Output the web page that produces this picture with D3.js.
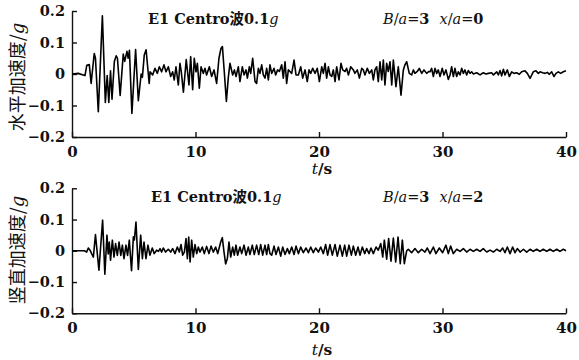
<!DOCTYPE html>
<html><head><meta charset="utf-8">
<script src="https://cdn.jsdelivr.net/npm/d3@7"></script>
<style>
body{margin:0;background:#fff;}
svg{display:block;}
</style></head>
<body>
<svg id="c" width="579" height="360"></svg>
<script>
// ---- data ----
const xTicks = [0, 10, 20, 30, 40];
const yTicks = [0.2, 0.1, 0, -0.1, -0.2];
const titleWave = "E1 Centro波0.1";
const labelH = "水平加速度/";
const labelV = "竖直加速度/";
const caseH = ["B", "a", "3", "x", "a", "0"];
const caseV = ["B", "a", "3", "x", "a", "2"];

const horizontal = [
[0,0],[0.5,0.002],[0.9,-0.003],[1.05,-0.005],[1.2,0.028],[1.4,0.03],[1.55,-0.03],[1.8,0.065],[1.9,0.05],
[2.13,-0.12],[2.46,0.185],[2.7,-0.09],[2.85,-0.005],[2.98,-0.09],[3.12,0.01],[3.24,-0.08],[3.43,0.04],
[3.58,0.058],[3.68,0.05],[3.9,-0.068],[4.15,0.063],[4.27,0.04],[4.45,0.072],[4.55,0.05],[4.65,0.075],
[4.85,-0.125],[5.15,0.078],[5.37,-0.085],[5.6,0.0],[5.7,-0.01],[5.85,0.06],[6.0,0.077],[6.25,-0.03],
[6.32,0.007],[6.53,-0.003],[6.72,0.018],[6.91,0.002],[7.07,0.023],[7.26,0.007],[7.45,0.029],[7.61,0.007],
[7.8,0.023],[7.99,-0.008],[8.15,0.007],[8.28,-0.019],[8.42,0.023],[8.61,-0.035],[8.74,0.034],[8.85,0.007],
[9.02,-0.058],[9.25,0.046],[9.47,-0.035],[9.61,0.055],[9.77,-0.05],[9.9,0.05],[10.04,0.007],[10.15,0.034],
[10.31,-0.045],[10.45,0.023],[10.63,0.002],[10.77,0.018],[10.9,-0.003],[11.12,0.023],[11.31,-0.008],
[11.5,0.013],[11.71,-0.03],[11.9,0.05],[12.06,0.081],[12.18,0.087],[12.33,0.007],[12.5,-0.087],[12.66,-0.01],
[12.79,0.034],[13.01,-0.003],[13.15,0.013],[13.28,-0.008],[13.47,0.023],[13.6,-0.024],[13.79,0.023],
[13.93,-0.003],[14.09,0.013],[14.2,-0.013],[14.36,0.023],[14.47,0.002],[14.63,0.05],[14.82,-0.024],
[14.95,-0.03],[15.09,0.018],[15.22,0.002],[15.36,0.029],[15.49,-0.003],[15.63,-0.013],[15.76,0.018],
[15.9,-0.019],[16.03,0.029],[16.17,0.002],[16.36,0.018],[16.49,-0.003],[16.65,0.013],[16.79,0.008],
[16.98,0.029],[17.11,-0.013],[17.25,0.039],[17.38,-0.03],[17.52,0.013],[17.65,0.008],[17.79,0.002],
[17.98,0.044],[18.14,-0.003],[18.33,-0.003],[18.52,0.023],[18.68,-0.013],[18.87,0.013],[19.05,-0.024],
[19.19,0.013],[19.33,0.002],[19.49,0.018],[19.68,0.002],[19.86,0.018],[20.03,-0.024],[20.22,0.023],
[20.35,0.002],[20.49,0.034],[20.62,-0.013],[20.76,0.023],[20.89,-0.003],[21.03,-0.008],[21.16,0.013],
[21.3,-0.024],[21.43,0.023],[21.62,-0.019],[21.78,0.034],[21.92,0.013],[22.11,0.008],[22.24,0.018],
[22.38,-0.003],[22.57,0.023],[22.78,0.013],[22.91,0.002],[23.1,0.013],[23.27,-0.013],[23.46,0.018],
[23.59,0.013],[23.72,-0.003],[23.91,0.018],[24.08,0.002],[24.27,0.013],[24.4,-0.019],[24.53,0.013],
[24.67,0.023],[24.8,-0.024],[24.94,0.039],[25.08,-0.019],[25.21,0.044],[25.34,-0.035],[25.48,0.034],
[25.61,0.008],[25.75,0.039],[25.89,-0.035],[26.02,0.044],[26.23,-0.04],[26.42,0.023],[26.64,-0.067],
[26.83,0.013],[26.96,0.029],[27.1,0.039],[27.31,0.002],[27.5,-0.003],[27.64,0.013],[27.77,0.002],
[27.96,0.008],[28.12,0.018],[28.32,0.002],[28.5,0.013],[28.72,0.002],[28.88,0.008],[28.99,0.007],
[29.12,0.018],[29.26,-0.008],[29.39,0.018],[29.53,0.002],[29.66,0.013],[29.8,-0.008],[29.98,0.018],
[30.12,-0.003],[30.28,0.013],[30.47,-0.017],[30.61,-0.003],[30.74,0.023],[30.88,-0.008],[31.01,0.018],
[31.15,-0.008],[31.28,0.007],[31.42,-0.003],[31.55,0.018],[31.69,0.002],[31.82,0.013],[31.96,-0.003],
[32.09,0.011],[32.23,0.002],[32.36,0.007],[32.5,0.0],[32.77,0.004],[33.04,-0.003],[33.3,0.004],[33.52,0],
[33.71,0.002],[33.98,0.004],[34.12,-0.003],[34.39,0.007],[34.52,-0.003],[34.66,0.011],[34.79,-0.006],
[34.93,0.015],[35.06,-0.003],[35.25,0.013],[35.41,-0.008],[35.6,0.007],[35.79,0.002],[36.01,0.004],
[36.22,-0.001],[36.41,0.007],[36.68,0.01],[36.87,0.002],[37.09,-0.014],[37.35,0.007],[37.57,0.01],
[37.76,0.002],[37.9,0.007],[38.11,0.004],[38.3,0.002],[38.49,0.005],[38.65,-0.001],[38.84,0.007],
[39.03,-0.008],[39.19,0.002],[39.38,0.007],[39.57,0.002],[39.78,0.007],[40,0.01]
];

const vertical = [
[0,0],[1.0,0],[1.19,-0.004],[1.32,0.009],[1.46,0.002],[1.59,-0.009],[1.73,-0.02],[1.9,0.052],[2.18,-0.062],
[2.48,0.098],[2.66,-0.075],[2.83,0.05],[2.93,-0.01],[3.02,0.028],[3.12,-0.03],[3.27,0.034],[3.4,-0.02],
[3.53,0.023],[3.67,-0.015],[3.81,0.028],[3.95,-0.015],[4.08,0.018],[4.21,-0.025],[4.37,0.018],[4.5,-0.015],
[4.64,0.034],[4.82,-0.064],[4.97,0.045],[5.05,0.035],[5.18,0.092],[5.37,-0.06],[5.56,0.05],[5.7,-0.025],
[5.83,0.028],[5.99,-0.025],[6.15,0.018],[6.31,-0.014],[6.5,0.009],[6.66,-0.009],[6.85,0.002],[7.0,-0.002],
[7.13,0.007],[7.26,-0.004],[7.39,0.009],[7.58,-0.004],[7.8,0.005],[7.99,-0.004],[8.15,0.007],[8.34,-0.009],
[8.53,0.012],[8.69,-0.004],[8.83,0.02],[8.96,-0.014],[9.1,-0.004],[9.23,0.039],[9.34,-0.025],[9.45,0.044],
[9.56,-0.036],[9.69,0.034],[9.82,-0.02],[9.96,0.02],[10.1,-0.009],[10.23,0.012],[10.36,-0.004],[10.55,0.012],
[10.71,-0.009],[10.9,0.014],[11.09,-0.009],[11.26,0.015],[11.44,-0.004],[11.63,0.012],[11.8,-0.009],
[12.04,0.028],[12.17,0.042],[12.31,-0.004],[12.44,-0.042],[12.58,-0.025],[12.71,0.028],[12.85,-0.02],
[13.01,0.012],[13.14,-0.014],[13.28,0.018],[13.41,-0.014],[13.6,0.012],[13.74,-0.009],[13.93,0.018],
[14.09,-0.014],[14.28,0.012],[14.41,-0.012],[14.6,0.018],[14.76,-0.012],[14.95,0.018],[15.12,-0.012],
[15.28,0.02],[15.44,-0.014],[15.63,0.018],[15.76,-0.012],[15.9,0.02],[16.03,-0.009],[16.17,-0.014],
[16.36,0.015],[16.52,-0.012],[16.71,0.012],[16.9,-0.017],[17.06,0.012],[17.25,-0.012],[17.44,0.007],
[17.6,-0.009],[17.79,0.012],[17.98,-0.012],[18.14,0.015],[18.33,-0.009],[18.52,0.012],[18.73,-0.006],
[18.95,0.009],[19.14,-0.006],[19.33,0.012],[19.54,-0.006],[19.73,0.009],[19.95,-0.004],[20.14,0.012],
[20.35,-0.009],[20.54,0.02],[20.7,-0.014],[20.89,0.02],[21.08,-0.014],[21.3,0.02],[21.48,-0.017],
[21.7,0.018],[21.89,-0.017],[22.08,0.018],[22.24,-0.017],[22.43,0.018],[22.62,-0.014],[22.78,0.015],
[22.97,-0.014],[23.16,0.012],[23.32,-0.014],[23.51,0.012],[23.7,-0.009],[23.86,0.007],[24.05,-0.009],
[24.21,0.009],[24.4,-0.009],[24.62,0.012],[24.8,0.002],[25.0,0.023],[25.16,-0.02],[25.29,0.034],
[25.48,-0.027],[25.64,0.039],[25.83,-0.033],[26.02,0.041],[26.21,-0.036],[26.4,0.044],[26.58,-0.041],
[26.75,0.034],[26.91,-0.041],[27.1,0.0],[27.23,0.005],[27.5,-0.006],[27.77,0.007],[28.04,-0.006],
[28.31,0.005],[28.58,-0.004],[28.77,0.009],[28.99,-0.009],[29.26,0.012],[29.47,-0.009],[29.74,0.009],
[30.01,-0.006],[30.28,0.018],[30.47,-0.009],[30.66,0.015],[30.88,-0.009],[31.15,0.005],[31.42,-0.002],
[31.69,0.007],[31.96,-0.004],[32.23,0.005],[32.5,-0.002],[32.77,0.005],[33.04,-0.002],[33.3,0.007],
[33.58,-0.004],[33.85,0.002],[34.12,-0.004],[34.39,0.005],[34.66,-0.002],[34.87,0.009],[35.06,-0.006],
[35.25,0.012],[35.47,-0.009],[35.68,0.012],[35.87,-0.006],[36.06,0.007],[36.28,-0.004],[36.55,0.005],
[36.82,-0.004],[37.09,0.005],[37.35,-0.002],[37.63,0.005],[37.89,-0.002],[38.16,0.005],[38.44,-0.002],
[38.7,0.005],[38.97,-0.002],[39.25,0.005],[39.51,-0.002],[39.78,0.005],[40,0.0]
];

// ---- drawing ----
const svg = d3.select("#c");
const x = d3.scaleLinear().domain([0, 40]).range([72, 566]);
const numFont = "'DejaVu Serif', serif";
const cjkFont = "'Noto Sans CJK SC', sans-serif";

const panels = [
  {data: horizontal, top: 11, bottom: 137, label: labelH, labelY: 77, caseTxt: caseH, titleX: 148, titleBase: 24, tsBase: 174},
  {data: vertical, top: 188.3, bottom: 313.3, label: labelV, labelY: 250, caseTxt: caseV, titleX: 151, titleBase: 202, tsBase: 355}
];

const fmt = v => v === 0 ? "0" : (v < 0 ? "\u2212" + Math.abs(v).toFixed(1) : v.toFixed(1));

panels.forEach(p => {
  const y = d3.scaleLinear().domain([-0.2, 0.2]).range([p.bottom, p.top]);
  const g = svg.append("g");

  // x axis
  const xa = g.append("g").attr("transform", `translate(0,${p.bottom})`)
    .call(d3.axisBottom(x).tickValues(xTicks).tickSizeInner(-5).tickSizeOuter(0).tickPadding(9).tickFormat(d3.format("d")));
  xa.selectAll("text").attr("font-family", numFont).attr("font-weight", "bold").attr("font-size", 15).attr("fill", "#111");
  // y axis
  const ya = g.append("g").attr("transform", `translate(72,0)`)
    .call(d3.axisLeft(y).tickValues(yTicks).tickSizeInner(-5).tickSizeOuter(0).tickPadding(7).tickFormat(fmt));
  ya.selectAll("text").attr("font-family", numFont).attr("font-weight", "bold").attr("font-size", 14.5).attr("fill", "#111");
  [xa, ya].forEach(a => {
    a.select(".domain").attr("stroke", "#111").attr("stroke-width", 1.4);
    a.selectAll(".tick line").attr("stroke", "#111").attr("stroke-width", 1.4);
  });

  // signal
  const line = d3.line().x(d => x(d[0])).y(d => y(d[1]));
  g.append("path").datum(p.data).attr("d", line)
    .attr("fill", "none").attr("stroke", "#000").attr("stroke-width", 1.6).attr("stroke-linejoin", "round");

  // title
  const t1 = g.append("text").attr("x", p.titleX).attr("y", p.titleBase).attr("font-size", 14.5).attr("fill", "#111");
  t1.append("tspan").attr("font-family", numFont).attr("font-weight", "bold").text("E1 Centro");
  t1.append("tspan").attr("font-family", cjkFont).attr("font-weight", "bold").text("波");
  t1.append("tspan").attr("font-family", numFont).attr("font-weight", "bold").text("0.1");
  t1.append("tspan").attr("font-family", numFont).attr("font-style", "italic").text("g");

  const c = p.caseTxt;
  const t2 = g.append("text").attr("x", 383).attr("y", p.titleBase).attr("font-size", 14.5).attr("font-family", numFont).attr("fill", "#111");
  t2.append("tspan").attr("font-style", "italic").text(c[0]);
  t2.append("tspan").text("/");
  t2.append("tspan").attr("font-style", "italic").text(c[1]);
  t2.append("tspan").text("=");
  t2.append("tspan").attr("font-weight", "bold").text(c[2]);
  t2.append("tspan").attr("font-style", "italic").attr("dx", 10).text(c[3]);
  t2.append("tspan").text("/");
  t2.append("tspan").attr("font-style", "italic").text(c[4]);
  t2.append("tspan").text("=");
  t2.append("tspan").attr("font-weight", "bold").text(c[5]);

  // x label
  const tx = g.append("text").attr("x", 322).attr("y", p.tsBase).attr("text-anchor", "middle")
    .attr("font-family", numFont).attr("font-size", 15.5).attr("fill", "#111");
  tx.append("tspan").attr("font-style", "italic").text("t");
  tx.append("tspan").attr("font-weight", "bold").text("/s");

  // y label
  const ty = g.append("text").attr("transform", `translate(24,${p.labelY}) rotate(-90)`).attr("text-anchor", "middle")
    .attr("font-size", 18).attr("fill", "#111");
  ty.append("tspan").attr("font-family", cjkFont).text(p.label);
  ty.append("tspan").attr("font-family", numFont).attr("font-style", "italic").text("g");
});
</script>
</body></html>
